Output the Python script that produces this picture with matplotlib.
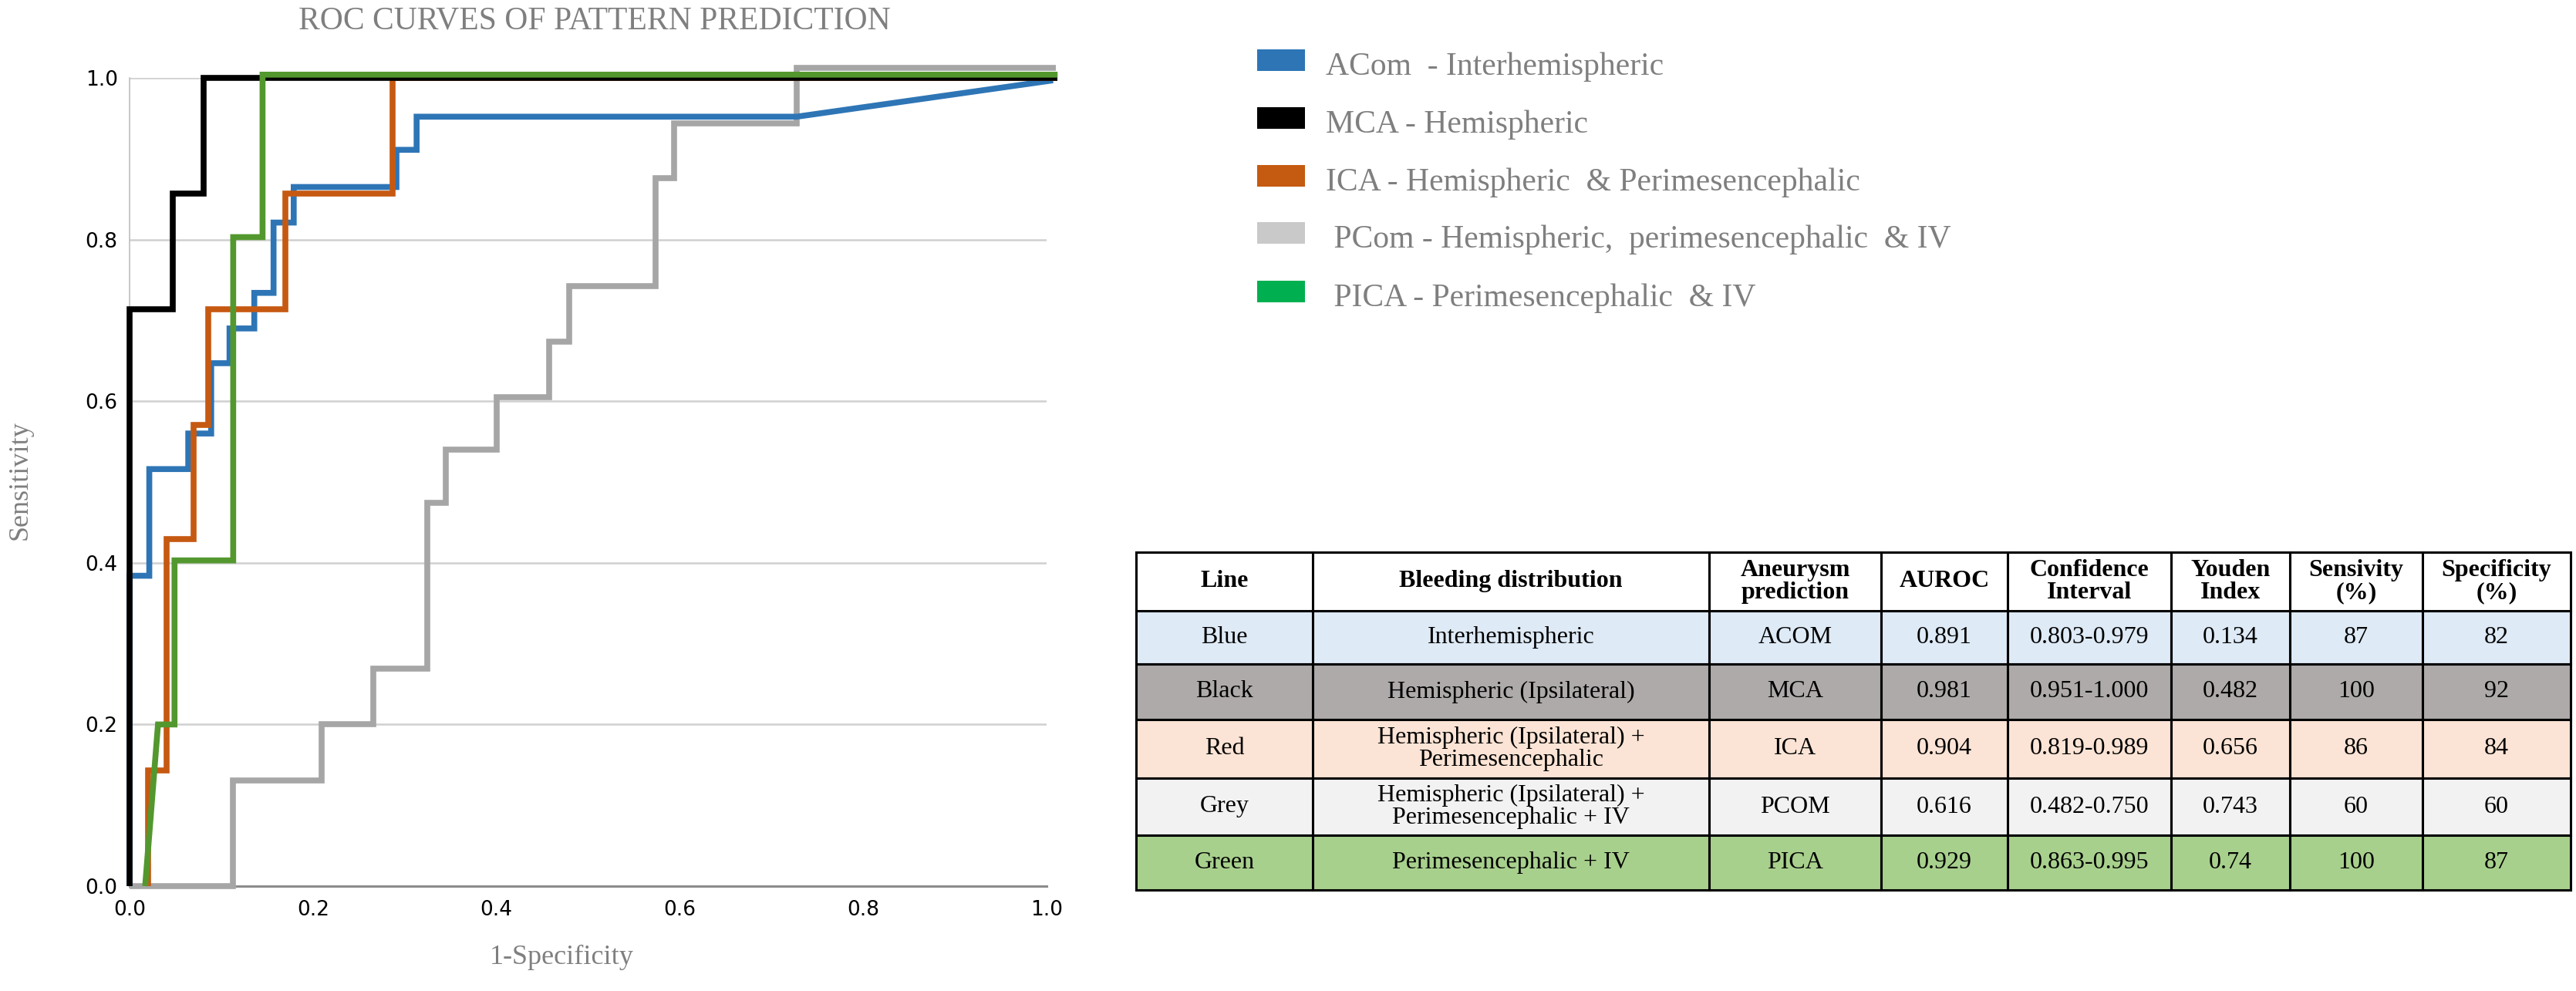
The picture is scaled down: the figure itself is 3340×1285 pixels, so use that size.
import matplotlib
matplotlib.use("Agg")
import matplotlib.pyplot as plt
from matplotlib.patches import Rectangle

W, H = 3341, 1285
DPI = 100

# ROC step curves: x = 1-specificity, y = sensitivity
acom_x = [0.0, 0.0, 0.0215, 0.0215, 0.064, 0.064, 0.089, 0.089, 0.109, 0.109, 0.136, 0.136,
          0.157, 0.157, 0.179, 0.179, 0.291, 0.291, 0.313, 0.313, 0.7275, 1.007]
acom_y = [0.0, 0.384, 0.384, 0.516, 0.516, 0.560, 0.560, 0.647, 0.647, 0.690, 0.690, 0.734,
          0.734, 0.821, 0.821, 0.865, 0.865, 0.911, 0.911, 0.952, 0.952, 0.997]

mca_x = [0.0, 0.0, 0.047, 0.047, 0.081, 0.081, 1.012]
mca_y = [0.0, 0.714, 0.714, 0.857, 0.857, 1.0, 1.0]

ica_x = [0.02, 0.02, 0.04, 0.04, 0.07, 0.07, 0.086, 0.086, 0.17, 0.17, 0.287, 0.287, 1.012]
ica_y = [0.0, 0.143, 0.143, 0.429, 0.429, 0.571, 0.571, 0.714, 0.714, 0.857, 0.857, 1.0, 1.0]

pcom_x = [0.0, 0.113, 0.113, 0.209, 0.209, 0.266, 0.266, 0.325, 0.325, 0.345, 0.345, 0.40, 0.40,
          0.4575, 0.4575, 0.479, 0.479, 0.574, 0.574, 0.594, 0.594, 0.7275, 0.7275, 1.01]
pcom_y = [0.0, 0.0, 0.131, 0.131, 0.2, 0.2, 0.269, 0.269, 0.474, 0.474, 0.540, 0.540, 0.605,
          0.605, 0.674, 0.674, 0.742, 0.742, 0.876, 0.876, 0.944, 0.944, 1.012, 1.012]

pica_x = [0.017, 0.031, 0.049, 0.049, 0.113, 0.113, 0.145, 0.145, 1.012]
pica_y = [0.0, 0.2, 0.2, 0.403, 0.403, 0.803, 0.803, 1.004, 1.004]

legend_labels = ["ACom  - Interhemispheric", "MCA - Hemispheric",
                 "ICA - Hemispheric  & Perimesencephalic",
                 " PCom - Hemispheric,  perimesencephalic  & IV",
                 " PICA - Perimesencephalic  & IV"]

# table contents
col_labels = ["Line", "Bleeding distribution", "Aneurysm\nprediction", "AUROC",
              "Confidence\nInterval", "Youden\nIndex", "Sensivity\n(%)", "Specificity\n(%)"]
line_names = ["Blue", "Black", "Red", "Grey", "Green"]
bleeding = ["Interhemispheric", "Hemispheric (Ipsilateral)",
            "Hemispheric (Ipsilateral) +\nPerimesencephalic",
            "Hemispheric (Ipsilateral) +\nPerimesencephalic + IV",
            "Perimesencephalic + IV"]
prediction = ["ACOM", "MCA", "ICA", "PCOM", "PICA"]
auroc = ["0.891", "0.981", "0.904", "0.616", "0.929"]
conf_int = ["0.803-0.979", "0.951-1.000", "0.819-0.989", "0.482-0.750", "0.863-0.995"]
youden = ["0.134", "0.482", "0.656", "0.743", "0.74"]
sens = ["87", "100", "86", "60", "100"]
spec = ["82", "92", "84", "60", "87"]

# styles
line_colors = ["#2E75B6", "#000000", "#C65911", "#A6A6A6", "#53982E"]
patch_colors = ["#2E75B6", "#000000", "#C55A11", "#C9C9C9", "#00B050"]
row_colors = ["#DEEAF6", "#AEAAAA", "#FBE4D5", "#F2F2F2", "#A8D08D"]
grey_txt = "#7F7F7F"
serif = "Liberation Serif"


def fx(px):
    return px / W


def fy(py):
    return 1 - py / H


fig = plt.figure(figsize=(W / DPI, H / DPI), dpi=DPI)

# ROC plot
ax = fig.add_axes([fx(168), fy(1149), (1357 - 168) / W, (1149 - 101) / H])
ax.set_xlim(0, 1)
ax.set_ylim(0, 1)
ax.set_xticks([0, 0.2, 0.4, 0.6, 0.8, 1.0])
ax.set_yticks([0, 0.2, 0.4, 0.6, 0.8, 1.0])
ax.set_xticklabels(["0.0", "0.2", "0.4", "0.6", "0.8", "1.0"])
ax.set_yticklabels(["0.0", "0.2", "0.4", "0.6", "0.8", "1.0"])
ax.tick_params(length=0, labelsize=19, colors="black")
ax.tick_params(axis="x", pad=13)
ax.tick_params(axis="y", pad=11)
ax.yaxis.grid(True, color="#D0D0D0", lw=1.8)
ax.set_axisbelow(True)
for s in ["top", "right"]:
    ax.spines[s].set_visible(False)
ax.spines["left"].set_color("#BFBFBF")
ax.spines["left"].set_linewidth(1.2)
ax.spines["bottom"].set_color("#8C8C8C")
ax.spines["bottom"].set_linewidth(2.2)

curves = [(pcom_x, pcom_y, 3), (acom_x, acom_y, 0), (ica_x, ica_y, 2),
          (mca_x, mca_y, 1), (pica_x, pica_y, 4)]
for xs, ys, ci in curves:
    ax.plot(xs, ys, color=line_colors[ci], lw=5.5, clip_on=False,
            solid_joinstyle="miter", solid_capstyle="butt", zorder=3)

fig.text(fx(771), fy(37), "ROC CURVES OF PATTERN PREDICTION", ha="center", va="baseline",
         fontsize=30, color=grey_txt, family=serif)
fig.text(fx(728), fy(1250), "1-Specificity", ha="center", va="baseline",
         fontsize=26, color=grey_txt, family=serif)
fig.text(fx(26), fy(623), "Sensitivity", ha="center", va="center", rotation=90,
         fontsize=26, color=grey_txt, family=serif)

# legend
rows_y = [78, 153, 228, 302, 378]
for lab, col, ry in zip(legend_labels, patch_colors, rows_y):
    fig.patches.append(Rectangle((fx(1630), fy(ry + 14)), 62 / W, 28 / H,
                                 transform=fig.transFigure, facecolor=col,
                                 edgecolor="none"))
    fig.text(fx(1719), fy(ry + 19), lab, ha="left", va="baseline",
             fontsize=30, color=grey_txt, family=serif)

# table
col_px = [1473, 1702, 2216, 2439, 2603, 2815, 2969, 3141, 3333]
row_px = [716, 792, 861, 933, 1009, 1083, 1154]
tab_w = col_px[-1] - col_px[0]
tab_h = row_px[-1] - row_px[0]
axt = fig.add_axes([fx(col_px[0]), fy(row_px[-1]), tab_w / W, tab_h / H])
axt.axis("off")

cell_text = [list(r) for r in zip(line_names, bleeding, prediction, auroc, conf_int,
                                  youden, sens, spec)]
cell_cols = [[c] * len(col_labels) for c in row_colors]
col_w = [(col_px[i + 1] - col_px[i]) / tab_w for i in range(len(col_labels))]
tbl = axt.table(cellText=cell_text, colLabels=col_labels, cellColours=cell_cols,
                colColours=["white"] * len(col_labels), colWidths=col_w,
                cellLoc="center", bbox=[0, 0, 1, 1])
tbl.auto_set_font_size(False)
tbl.set_fontsize(23)
for (r, c), cell in tbl.get_celld().items():
    cell.set_height((row_px[r + 1] - row_px[r]) / tab_h)
    cell.set_edgecolor("black")
    cell.set_linewidth(2.2)
    t = cell.get_text()
    t.set_fontfamily(serif)
    t.set_linespacing(1.0)
    if r == 0:
        t.set_fontweight("bold")

fig.savefig("out.png", dpi=DPI)
